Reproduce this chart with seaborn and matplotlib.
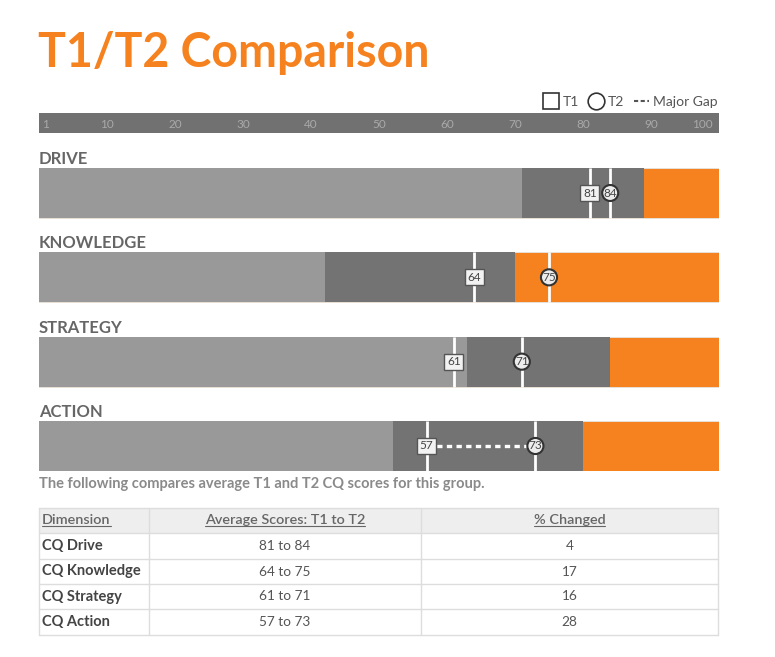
import numpy as np
import pandas as pd
import matplotlib
matplotlib.use("Agg")
import matplotlib.pyplot as plt
from matplotlib.lines import Line2D
from matplotlib.patches import Rectangle
import seaborn as sns

# ---------------- data ----------------
dimensions = ["DRIVE", "KNOWLEDGE", "STRATEGY", "ACTION"]
band_low = [71, 42, 63, 52]      # end of light-gray band
band_high = [89, 70, 84, 80]     # end of dark-gray band (orange beyond)
scale_max = [100, 100, 100, 100]
t1_scores = [81, 64, 61, 57]
t2_scores = [84, 75, 71, 73]
major_gap = [False, False, False, True]
axis_ticks = [1, 10, 20, 30, 40, 50, 60, 70, 80, 90, 100]

table_dims = ["CQ Drive", "CQ Knowledge", "CQ Strategy", "CQ Action"]
pct_changed = [4, 17, 16, 28]
table_headers = ["Dimension", "Average Scores: T1 to T2", "% Changed"]

# ---------------- style ----------------
sns.set_style("white")
plt.rcParams["font.family"] = ["Lato", "DejaVu Sans"]

ORANGE = "#F5821F"
DARK = "#737373"
LIGHT = "#999999"
AXIS_BG = "#717171"

W, H = 775, 657
fig = plt.figure(figsize=(W / 100, H / 100), dpi=100)

canvas = fig.add_axes([0, 0, 1, 1])
canvas.set_xlim(0, W)
canvas.set_ylim(H, 0)
canvas.axis("off")


def px_axes(x0, y0, x1, y1):
    return fig.add_axes([x0 / W, 1 - y1 / H, (x1 - x0) / W, (y1 - y0) / H])


# ---------------- title ----------------
canvas.text(38, 67, "T1/T2 Comparison", fontsize=33.5, weight="bold",
            color=ORANGE, va="baseline", ha="left")

# ---------------- legend ----------------
handles = [
    Line2D([0], [0], marker="s", ls="none", ms=11, mfc="white", mec="#333333", mew=1.2),
    Line2D([0], [0], marker="o", ls="none", ms=12, mfc="white", mec="#333333", mew=1.2),
    Line2D([0], [0], color="#555555", ls=(0, (2, 1.2)), lw=1.5),
]
fig.legend(handles, ["T1", "T2", "Major Gap"], loc="center right",
           bbox_to_anchor=(725 / W, 1 - 102 / H), ncol=3, frameon=False,
           fontsize=10, handlelength=1.1, handletextpad=0.3,
           columnspacing=0.7, labelcolor="#555555", borderpad=0)

# ---------------- axis scale bar ----------------
sx = px_axes(39, 113, 719, 133)
sx.set_facecolor(AXIS_BG)
sx.set_xlim(0, 100)
sx.set_ylim(0, 1)
sx.set_xticks([])
sx.set_yticks([])
for s in sx.spines.values():
    s.set_visible(False)
for t in axis_ticks:
    pos = 97.5 if t == 100 else t
    sx.text(pos, 0.42, str(t), ha="center", va="center", fontsize=8.5,
            color="#a9a9a9")

# ---------------- bars ----------------
df = pd.DataFrame({"dim": dimensions, "low": band_low, "high": band_high,
                   "full": scale_max})
bw = 50 / 84.33
bx = px_axes(39, 168, 719, 471)
sns.barplot(data=df, x="full", y="dim", orient="h", color=ORANGE, width=bw,
            saturation=1, ax=bx, edgecolor="#e4e4e4", linewidth=0.6)
sns.barplot(data=df, x="high", y="dim", orient="h", color=DARK, width=bw,
            saturation=1, ax=bx, linewidth=0)
sns.barplot(data=df, x="low", y="dim", orient="h", color=LIGHT, width=bw,
            saturation=1, ax=bx, linewidth=0)
bx.set_xlim(0, 100)
bx.set_ylim(3 + bw / 2, -bw / 2)
bx.axis("off")

for i, dim in enumerate(dimensions):
    top = i - bw / 2
    bx.text(0, top - 4 / 84.33, dim, ha="left", va="baseline", fontsize=12,
            weight="bold", color="#666666", clip_on=False)
    a, b = t1_scores[i], t2_scores[i]
    bx.vlines([a, b], i - bw / 2, i + bw / 2, color="white", lw=2, zorder=4)
    if major_gap[i]:
        bx.plot([a, b], [i, i], color="white", lw=2.4, ls=(0, (1.6, 1.3)),
                zorder=5)
    bx.text(a, i, str(a), ha="center", va="center", fontsize=8.5,
            color="#444444", zorder=6,
            bbox=dict(boxstyle="square,pad=0.22", fc="#f2f2f2", ec="#555555",
                      lw=1))
    bx.text(b, i, str(b), ha="center", va="center", fontsize=8.5,
            color="#444444", zorder=6,
            bbox=dict(boxstyle="circle,pad=0.1", fc="#ececec", ec="#333333",
                      lw=1.5))

# ---------------- caption ----------------
canvas.text(39, 488, "The following compares average T1 and T2 CQ scores for this group.",
            fontsize=10.5, weight="bold", color="#8a8a8a", va="baseline",
            ha="left")

# ---------------- table ----------------
tx0, tx1 = 39, 718
col_x = [39, 149, 421, 718]
row_y = [508, 533, 559, 584, 609, 635]
LINE = "#dddddd"
canvas.add_patch(Rectangle((tx0, row_y[0]), tx1 - tx0, row_y[1] - row_y[0],
                           fc="#eeeeee", ec="none", zorder=1))
for y in row_y:
    canvas.plot([tx0, tx1], [y, y], color=LINE, lw=1, zorder=2)
for x in col_x:
    canvas.plot([x, x], [row_y[0], row_y[-1]], color=LINE, lw=1, zorder=2)

hc = (row_y[0] + row_y[1]) / 2
head_pos = [(42, "left"), ((col_x[1] + col_x[2]) / 2, "center"),
            ((col_x[2] + col_x[3]) / 2, "center")]
head_texts = []
for (x, ha), label in zip(head_pos, table_headers):
    head_texts.append(canvas.text(x, hc, label, ha=ha, va="center",
                                  fontsize=10.4, color="#666666",
                                  weight="semibold", zorder=3))

for r, name in enumerate(table_dims):
    yc = (row_y[r + 1] + row_y[r + 2]) / 2
    canvas.text(42, yc, name, ha="left", va="center", fontsize=10.5,
                weight="bold", color="#444444", zorder=3)
    canvas.text(head_pos[1][0], yc, f"{t1_scores[r]} to {t2_scores[r]}",
                ha="center", va="center", fontsize=9.8, color="#555555",
                zorder=3)
    canvas.text(head_pos[2][0], yc, str(pct_changed[r]), ha="center",
                va="center", fontsize=9.8, color="#555555", zorder=3)

# underline header texts
fig.canvas.draw()
renderer = fig.canvas.get_renderer()
inv = canvas.transData.inverted()
for t in head_texts:
    bb = t.get_window_extent(renderer)
    (x0, y0) = inv.transform((bb.x0, bb.y0))
    (x1, _) = inv.transform((bb.x1, bb.y0))
    canvas.plot([x0, x1], [y0 - 1, y0 - 1], color="#666666", lw=0.8, zorder=3)

fig.savefig("out.png", dpi=100)
